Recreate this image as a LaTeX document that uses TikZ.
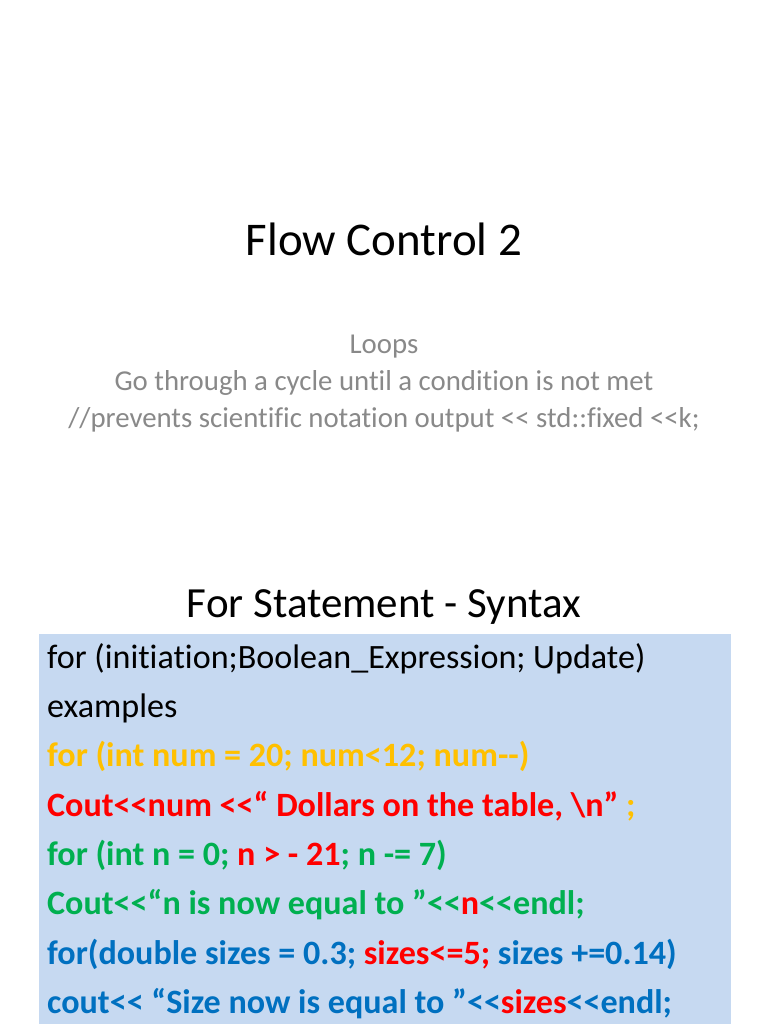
\documentclass[tikz,border=0pt]{standalone}
\usepackage{fontspec}
\setmainfont{Carlito}[Ligatures={TeXOff,CommonOff}]
\usepackage{tikz}
\definecolor{boxblue}{RGB}{198,217,241}
\definecolor{codeorange}{RGB}{255,192,0}
\definecolor{codered}{RGB}{255,0,0}
\definecolor{codegreen}{RGB}{0,176,80}
\definecolor{codeblue}{RGB}{0,112,192}
\definecolor{subgray}{RGB}{137,137,137}

\begin{document}
\begin{tikzpicture}[x=1pt,y=-1pt,
  slidetitle/.style={anchor=base,inner sep=0pt,font=\fontsize{46.9}{56}\selectfont},
  subline/.style={anchor=base,inner sep=0pt,text=subgray,font=\fontsize{28.8}{35}\selectfont},
  codeline/.style={anchor=base west,inner sep=0pt,font=\fontsize{34.1}{41}\selectfont},
  boldline/.style={codeline,font=\fontsize{34.1}{41}\selectfont\bfseries}]
  \useasboundingbox (0,0) rectangle (768,1024);
  \fill[white] (0,0) rectangle (768,1024);
  \node[slidetitle] (title) at (384,255) {Flow Control 2};
  \node[subline] (loops) at (384,353) {Loops};
  \node[subline] (cycle) at (384,390) {Go through a cycle until a condition is not met};
  \node[subline] (fixed) at (384,427) {//prevents scientific notation output << std::fixed <<k;};
  \node[slidetitle,font=\fontsize{43}{52}\selectfont] (syntax) at (384,617) {For Statement - Syntax};
  \fill[boxblue] (39,634) rectangle (731,1024);
  \node[codeline] (form) at (47,668.5) {for (initiation;Boolean\_Expression; Update)};
  \node[codeline] (examples) at (47,717.5) {examples};
  \node[boldline,text=codeorange] (fornum) at (47,766.5)
    {for (int num = 20; num<12; num--)};
  \node[boldline,text=codered] (coutnum) at (47,816)
    {Cout<<num <<“ Dollars on the table, \textbackslash n” \textcolor{codeorange}{;}};
  \node[boldline,text=codegreen] (forn) at (47,865)
    {for (int n = 0; \textcolor{codered}{n > - 21}; n -= 7)};
  \node[boldline,text=codegreen] (coutn) at (47,914.5)
    {Cout<<“n is now equal to ”<<\textcolor{codered}{n}<<endl;};
  \node[boldline,text=codeblue] (forsizes) at (47,964)
    {for(double sizes = 0.3; \textcolor{codered}{sizes<=5;} sizes +=0.14)};
  \node[boldline,text=codeblue] (coutsizes) at (47,1013.5)
    {cout<< “Size now is equal to ”<<\textcolor{codered}{sizes}<<endl;};
\end{tikzpicture}
\end{document}
